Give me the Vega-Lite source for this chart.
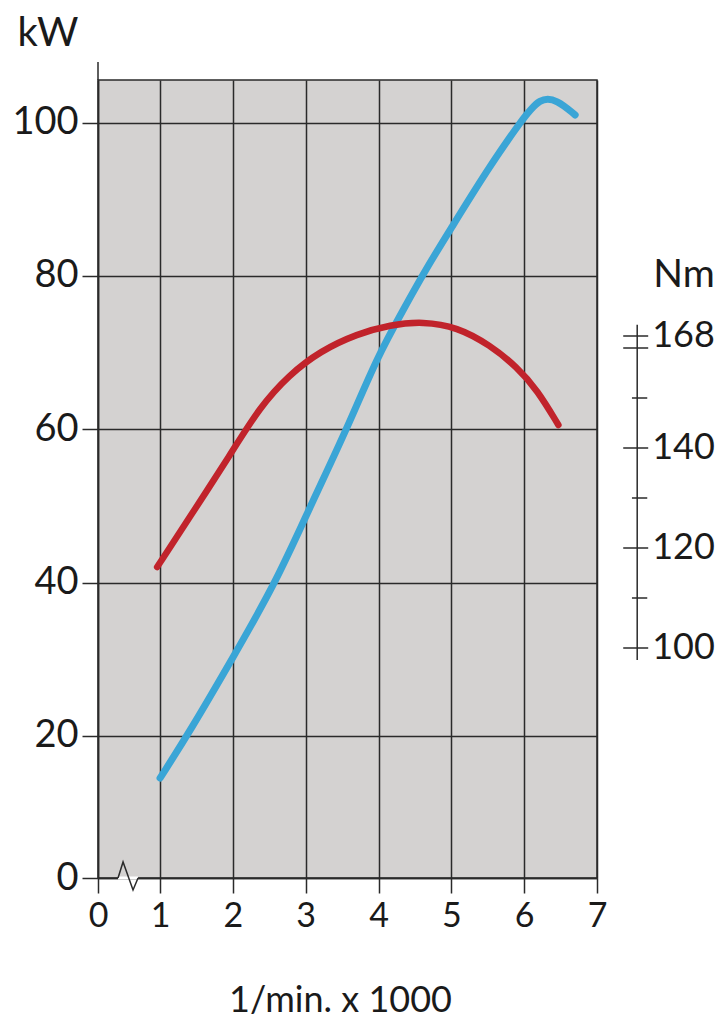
{
  "$schema": "https://vega.github.io/schema/vega-lite/v6.json",
  "width": 499,
  "height": 798,
  "autosize": {"type": "none"},
  "padding": {"left": 98, "top": 80, "right": 122, "bottom": 144},
  "background": "white",
  "config": {
    "view": {"fill": "#d4d2d1", "stroke": "#2a2a2a", "strokeWidth": 1.5},
    "font": "Lato",
    "text": {"font": "Lato", "color": "#1a1a1a"}
  },
  "datasets": {
    "power": [
      {"rpm": 1.0, "kW": 14.5},
      {"rpm": 1.41, "kW": 20.6},
      {"rpm": 2.0, "kW": 30.2},
      {"rpm": 2.6, "kW": 40.2},
      {"rpm": 3.06, "kW": 49.9},
      {"rpm": 3.56, "kW": 59.9},
      {"rpm": 3.98, "kW": 69.4},
      {"rpm": 4.34, "kW": 75.6},
      {"rpm": 4.67, "kW": 81.2},
      {"rpm": 4.97, "kW": 85.8},
      {"rpm": 5.49, "kW": 93.8},
      {"rpm": 5.97, "kW": 100.4},
      {"rpm": 6.22, "kW": 103.3},
      {"rpm": 6.45, "kW": 103.0},
      {"rpm": 6.7, "kW": 101.0}
    ],
    "torque": [
      {"rpm": 0.96, "Nm": 116.2},
      {"rpm": 1.41, "Nm": 126.2},
      {"rpm": 1.97, "Nm": 138.8},
      {"rpm": 2.37, "Nm": 148.2},
      {"rpm": 2.77, "Nm": 154.6},
      {"rpm": 3.2, "Nm": 159.4},
      {"rpm": 3.71, "Nm": 168.4},
      {"rpm": 4.16, "Nm": 170.0},
      {"rpm": 4.61, "Nm": 170.6},
      {"rpm": 5.08, "Nm": 169.6},
      {"rpm": 5.53, "Nm": 162.0},
      {"rpm": 5.9, "Nm": 156.2},
      {"rpm": 6.18, "Nm": 151.6},
      {"rpm": 6.47, "Nm": 144.6}
    ],
    "nmTicks": [
      {"Nm": 100, "kind": "major"},
      {"Nm": 110, "kind": "minor"},
      {"Nm": 120, "kind": "major"},
      {"Nm": 130, "kind": "minor"},
      {"Nm": 140, "kind": "major"},
      {"Nm": 150, "kind": "minor"},
      {"Nm": 160, "kind": "major"},
      {"Nm": 168, "kind": "major"}
    ],
    "nmLabels": [
      {"Nm": 168, "label": "168"},
      {"Nm": 140, "label": "140"},
      {"Nm": 120, "label": "120"},
      {"Nm": 100, "label": "100"}
    ],
    "axisBreak": [
      {"rpm": 0.423, "kW": 1.47},
      {"rpm": 0.492, "kW": 3.56},
      {"rpm": 0.629, "kW": -0.09},
      {"rpm": 0.698, "kW": 1.47}
    ]
  },
  "layer": [
    {
      "layer": [
        {
          "data": {"name": "power"},
          "mark": {"type": "line", "color": "#3aa5d6", "strokeWidth": 7, "interpolate": "basis", "strokeCap": "round"},
          "encoding": {
            "x": {
              "field": "rpm", "type": "quantitative",
              "scale": {"domain": [0.148, 7], "nice": false, "zero": false},
              "axis": {
                "values": [0.148, 1, 2, 3, 4, 5, 6, 7],
                "labelExpr": "datum.value < 0.5 ? '0' : format(datum.value, 'd')",
                "grid": true, "gridColor": "#2a2a2a", "gridWidth": 1.5, "gridOpacity": 1,
                "domainColor": "#2a2a2a", "domainWidth": 1.5,
                "tickColor": "#2a2a2a", "tickWidth": 1.5, "tickSize": 15,
                "labelFont": "Lato", "labelFontSize": 34, "labelColor": "#1a1a1a", "labelPadding": 6,
                "labelFlush": false, "labelOverlap": false,
                "title": "1/min. x 1000", "titleFont": "Lato", "titleFontSize": 36, "titleFontWeight": "normal",
                "titleColor": "#1a1a1a", "titleX": 242, "titleY": 133, "titleBaseline": "alphabetic", "titleAlign": "center"
              }
            },
            "y": {
              "field": "kW", "type": "quantitative",
              "scale": {"domain": [1.47, 105.56], "nice": false, "zero": false},
              "axis": {
                "values": [1.47, 20, 40, 60, 80, 100],
                "labelExpr": "datum.value < 5 ? '0' : format(datum.value, 'd')",
                "grid": true, "gridColor": "#2a2a2a", "gridWidth": 1.5, "gridOpacity": 1,
                "domainColor": "#2a2a2a", "domainWidth": 1.5,
                "tickColor": "#2a2a2a", "tickWidth": 1.5, "tickSize": 16,
                "labelFont": "Lato", "labelFontSize": 38, "labelColor": "#1a1a1a", "labelPadding": 4,
                "labelFlush": false, "labelOverlap": false,
                "title": "kW", "titleFont": "Lato", "titleFontSize": 40, "titleFontWeight": "normal",
                "titleColor": "#1a1a1a", "titleAngle": 0, "titleAlign": "left", "titleBaseline": "alphabetic",
                "titleX": -81, "titleY": -35
              }
            }
          }
        },
        {
          "data": {"values": [{}]},
          "mark": {"type": "rule", "color": "white", "strokeWidth": 3},
          "encoding": {
            "x": {"datum": 0.423},
            "x2": {"datum": 0.698},
            "y": {"datum": 1.47, "type": "quantitative"}
          }
        },
        {
          "data": {"name": "axisBreak"},
          "mark": {"type": "line", "color": "#2a2a2a", "strokeWidth": 1.5},
          "encoding": {
            "x": {"field": "rpm", "type": "quantitative"},
            "y": {"field": "kW", "type": "quantitative"}
          }
        },
        {
          "data": {"values": [{}]},
          "mark": {"type": "rule", "color": "#2a2a2a", "strokeWidth": 1.5},
          "encoding": {
            "x": {"datum": 0.148},
            "y": {"datum": 105.56, "type": "quantitative"},
            "y2": {"datum": 107.9}
          }
        }
      ]
    },
    {
      "layer": [
        {
          "data": {"name": "torque"},
          "mark": {"type": "line", "color": "#c1232b", "strokeWidth": 6.5, "interpolate": "basis", "strokeCap": "round"},
          "encoding": {
            "x": {"field": "rpm", "type": "quantitative"},
            "y": {
              "field": "Nm", "type": "quantitative",
              "scale": {"domain": [54, 160, 168, 213.6], "range": [798, 268, 256, 0], "nice": false, "zero": false},
              "axis": null
            }
          }
        },
        {
          "data": {"values": [{}]},
          "mark": {"type": "rule", "color": "#2a2a2a", "strokeWidth": 1.5},
          "encoding": {
            "x": {"datum": 7.552},
            "y": {"datum": 97.6, "type": "quantitative", "axis": null},
            "y2": {"datum": 170}
          }
        },
        {
          "data": {"name": "nmTicks"},
          "transform": [{"filter": "datum.kind == 'major'"}],
          "mark": {"type": "rule", "color": "#2a2a2a", "strokeWidth": 1.5},
          "encoding": {
            "x": {"datum": 7.36},
            "x2": {"datum": 7.703},
            "y": {"field": "Nm", "type": "quantitative", "axis": null}
          }
        },
        {
          "data": {"name": "nmTicks"},
          "transform": [{"filter": "datum.kind == 'minor'"}],
          "mark": {"type": "rule", "color": "#2a2a2a", "strokeWidth": 1.5},
          "encoding": {
            "x": {"datum": 7.48},
            "x2": {"datum": 7.69},
            "y": {"field": "Nm", "type": "quantitative", "axis": null}
          }
        },
        {
          "data": {"name": "nmLabels"},
          "mark": {"type": "text", "align": "left", "baseline": "middle", "fontSize": 36, "font": "Lato", "color": "#1a1a1a"},
          "encoding": {
            "x": {"datum": 7.758},
            "y": {"field": "Nm", "type": "quantitative", "axis": null},
            "text": {"field": "label"}
          }
        },
        {
          "data": {"values": [{}]},
          "mark": {"type": "text", "text": "Nm", "align": "left", "baseline": "alphabetic", "fontSize": 39, "font": "Lato", "color": "#1a1a1a"},
          "encoding": {
            "x": {"datum": 7.772},
            "y": {"datum": 176.75, "type": "quantitative", "axis": null}
          }
        }
      ]
    }
  ],
  "resolve": {"scale": {"y": "independent"}}
}
